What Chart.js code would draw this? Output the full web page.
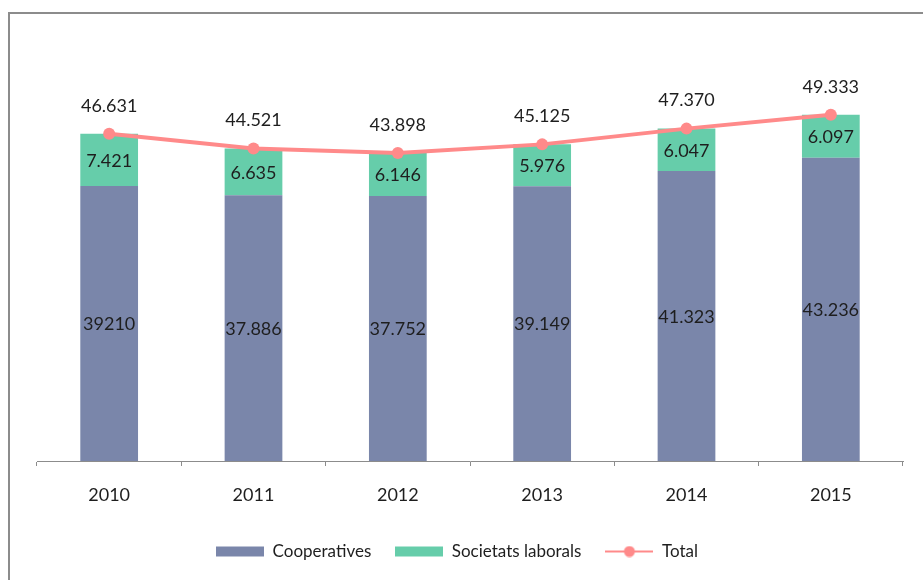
<!DOCTYPE html>
<html>
<head>
<meta charset="utf-8">
<script src="https://cdn.jsdelivr.net/npm/chart.js@4.4.1/dist/chart.umd.min.js"></script>
<style>
  body { margin: 0; background: #fff; }
  #frame {
    position: absolute; left: 8px; top: 12px; width: 2000px; height: 2000px;
    border-left: 2px solid #8c8c8c; border-top: 2px solid #8c8c8c;
  }
  #wrap { position: absolute; left: 0; top: 0; width: 923px; height: 580px; }
</style>
</head>
<body>
<div id="frame"></div>
<div id="wrap"><canvas id="empChart"></canvas></div>
<script>
const years = ['2010', '2011', '2012', '2013', '2014', '2015'];
const cooperatives = [39210, 37886, 37752, 39149, 41323, 43236];
const societatsLaborals = [7421, 6635, 6146, 5976, 6047, 6097];
const totals = [46631, 44521, 43898, 45125, 47370, 49333];

const COL_COOP = '#7a86aa';
const COL_SL = '#66cdaa';
const COL_TOTAL = '#ff8a8a';
const TEXT = '#1e1e1e';
const FONT = 'Lato, "Open Sans", sans-serif';

// thousands with a dot, like the source table
const fmt = v => String(v).replace(/\B(?=(\d{3})+(?!\d))/g, '.');
// first cooperatives figure came through unformatted
const coopText = cooperatives.map((v, i) => i === 0 ? String(v) : fmt(v));

// small canvases used as legend symbols
function legendIcon(draw) {
  const c = document.createElement('canvas');
  c.width = 48; c.height = 12;
  draw(c.getContext('2d'));
  return c;
}
const icons = [
  legendIcon(g => { g.fillStyle = COL_COOP; g.fillRect(0, 1, 48, 10); }),
  legendIcon(g => { g.fillStyle = COL_SL; g.fillRect(0, 1, 48, 10); }),
  legendIcon(g => {
    g.strokeStyle = COL_TOTAL; g.lineWidth = 2;
    g.beginPath(); g.moveTo(0, 6); g.lineTo(48, 6); g.stroke();
    g.fillStyle = COL_TOTAL;
    g.beginPath(); g.arc(24, 6, 5.5, 0, Math.PI * 2); g.fill();
  })
];

// value labels on bars and above the total line
const valueLabels = {
  id: 'valueLabels',
  afterDatasetsDraw(chart) {
    const ctx = chart.ctx;
    ctx.save();
    ctx.font = '18px ' + FONT;
    ctx.fillStyle = TEXT;
    ctx.textAlign = 'center';
    ctx.textBaseline = 'middle';
    const texts = [coopText, societatsLaborals.map(fmt), totals.map(fmt)];
    chart.data.datasets.forEach((ds, di) => {
      chart.getDatasetMeta(di).data.forEach((el, i) => {
        let y;
        if (ds.type === 'line') {
          y = el.y - 28;
        } else {
          const p = el.getProps(['y', 'base'], true);
          y = (p.y + p.base) / 2 + 1;
        }
        ctx.fillText(texts[di][i], el.x, y);
      });
    });
    ctx.restore();
  }
};

new Chart(document.getElementById('empChart').getContext('2d'), {
  data: {
    labels: years,
    datasets: [
      {
        type: 'bar', label: 'Cooperatives', data: cooperatives,
        backgroundColor: COL_COOP, order: 2,
        categoryPercentage: 1, barPercentage: 0.4
      },
      {
        type: 'bar', label: 'Societats laborals', data: societatsLaborals,
        backgroundColor: COL_SL, order: 2,
        categoryPercentage: 1, barPercentage: 0.4
      },
      {
        type: 'line', label: 'Total', data: totals,
        borderColor: COL_TOTAL, backgroundColor: COL_TOTAL,
        borderWidth: 4, pointRadius: 6, pointBorderWidth: 0,
        pointBackgroundColor: COL_TOTAL, tension: 0, order: 0
      }
    ]
  },
  options: {
    responsive: true,
    maintainAspectRatio: false,
    animation: false,
    layout: { padding: { top: 40, left: 11, right: 20, bottom: 10 } },
    plugins: {
      tooltip: { enabled: false },
      legend: {
        position: 'bottom',
        labels: {
          usePointStyle: true,
          pointStyleWidth: 48,
          padding: 24,
          color: TEXT,
          font: { family: FONT, size: 17 },
          generateLabels: chart => chart.data.datasets.map((ds, i) => ({
            text: ds.label,
            pointStyle: icons[i],
            fillStyle: ds.backgroundColor,
            strokeStyle: ds.backgroundColor,
            lineWidth: 0,
            fontColor: TEXT,
            hidden: !chart.isDatasetVisible(i),
            datasetIndex: i
          }))
        }
      }
    },
    scales: {
      x: {
        stacked: true,
        grid: {
          offset: true, drawOnChartArea: false, drawTicks: true,
          tickLength: 5, color: '#8c8c8c'
        },
        border: { color: '#8c8c8c', width: 1 },
        ticks: { color: TEXT, padding: 18, font: { family: FONT, size: 18 } },
        afterFit: scale => { scale.height = 58; }
      },
      y: {
        // no visible value axis, it only reserves the left margin
        stacked: true,
        min: 0,
        max: 60000,
        ticks: { display: false },
        grid: { display: false },
        border: { display: false },
        afterFit: scale => { scale.width = 26; }
      }
    }
  },
  plugins: [valueLabels]
});
</script>
</body>
</html>
